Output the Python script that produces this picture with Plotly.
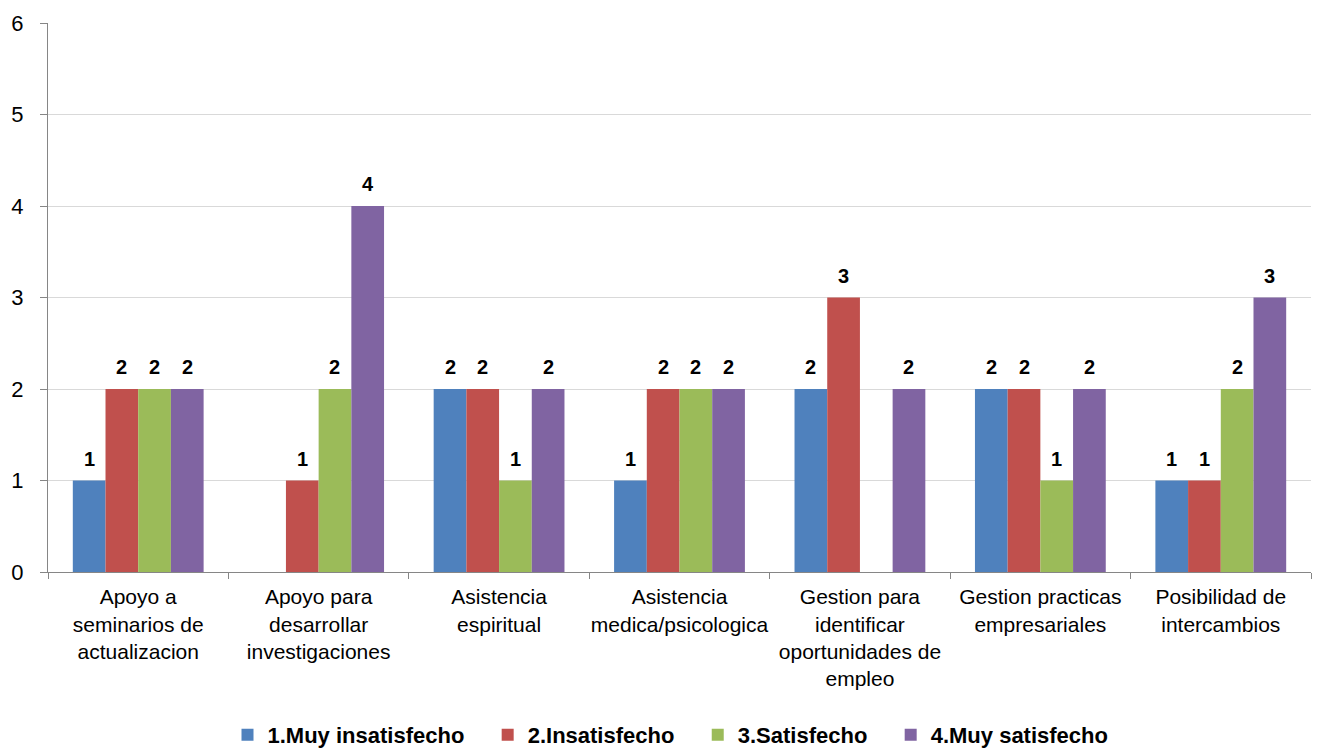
import plotly.graph_objects as go

categories = [
    "Apoyo a<br>seminarios de<br>actualizacion",
    "Apoyo para<br>desarrollar<br>investigaciones",
    "Asistencia<br>espiritual",
    "Asistencia<br>medica/psicologica",
    "Gestion para<br>identificar<br>oportunidades de<br>empleo",
    "Gestion practicas<br>empresariales",
    "Posibilidad de<br>intercambios",
]
series_names = ["1.Muy insatisfecho", "2.Insatisfecho", "3.Satisfecho", "4.Muy satisfecho"]
muy_insatisfecho = [1, 0, 2, 1, 2, 2, 1]
insatisfecho = [2, 1, 2, 2, 3, 2, 1]
satisfecho = [2, 2, 1, 2, 0, 1, 2]
muy_satisfecho = [2, 4, 2, 2, 2, 2, 3]
y_ticks = [0, 1, 2, 3, 4, 5, 6]

series_values = [muy_insatisfecho, insatisfecho, satisfecho, muy_satisfecho]
colors = ["#4F81BD", "#C0504D", "#9BBB59", "#8064A2"]

BARGAP = 0.275
n = len(series_values)
bw = (1 - BARGAP) / n

fig = go.Figure()
annotations = []
for j, (name, vals, col) in enumerate(zip(series_names, series_values, colors)):
    fig.add_trace(go.Bar(
        x=categories, y=[v if v else None for v in vals], name=name + "\u00a0\u00a0\u00a0",
        marker=dict(color=col, line=dict(width=0)),
    ))
    off = -(1 - BARGAP) / 2 + bw * (j + 0.5)
    for i, v in enumerate(vals):
        if v:
            annotations.append(dict(
                x=i + off, y=v, xref="x", yref="y", text="<b>%d</b>" % v,
                showarrow=False, yanchor="bottom", yshift=9,
                font=dict(family="Liberation Sans, Arial", size=20, color="black"),
            ))

fig.update_layout(
    width=1323, height=751,
    margin=dict(l=48, r=12, t=23, b=179, autoexpand=False),
    barmode="group", bargap=BARGAP, bargroupgap=0,
    plot_bgcolor="white", paper_bgcolor="white",
    font=dict(family="Liberation Sans, Arial", color="black"),
    annotations=annotations,
    legend=dict(
        orientation="h", x=0.5, xanchor="center", y=-0.297, yanchor="middle",
        font=dict(size=22, color="black", family="Liberation Sans, Arial", weight="bold"),
        itemwidth=30,
    ),
    showlegend=True,
)
fig.update_yaxes(
    range=[0, 6], tickvals=y_ticks, showgrid=True, gridcolor="#D9D9D9", gridwidth=1,
    showline=True, linecolor="#868686", linewidth=1,
    ticks="outside", ticklen=7, tickcolor="#868686",
    tickfont=dict(size=22, color="black"), zeroline=False,
    automargin=False, ticklabelstandoff=12,
)
fig.update_xaxes(
    showline=True, linecolor="#868686", linewidth=1,
    ticks="outside", ticklen=6, tickcolor="#868686", tickson="boundaries",
    tickfont=dict(size=21, color="black"), tickangle=0,
    automargin=False, ticklabelstandoff=6,
)

fig.write_html(
    "out.html",
    config={"displayModeBar": False},
    post_script="document.body.style.margin='0';document.body.style.overflow='hidden';",
)
